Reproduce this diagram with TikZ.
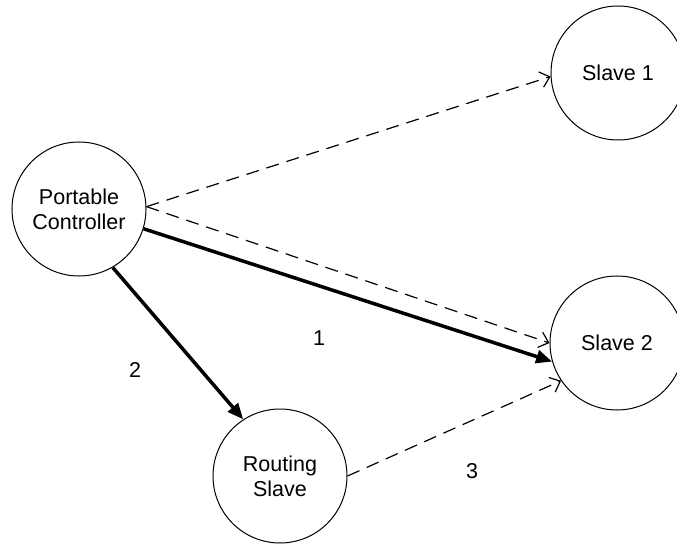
\documentclass[tikz,border=0pt]{standalone}
\usepackage{fontspec}
\setmainfont{Liberation Sans}
\usetikzlibrary{arrows.meta}
\begin{document}
\begin{tikzpicture}[x=1bp,y=-1bp,
  station/.style={draw, circle, line width=1bp, minimum size=134bp, inner sep=0pt,
    align=center, font=\fontsize{21.5bp}{25bp}\selectfont},
  lbl/.style={inner sep=0pt, font=\fontsize{21.5bp}{25bp}\selectfont},
  dlink/.style={line width=1.2bp, dash pattern=on 13bp off 8bp,
    -{Straight Barb[length=9bp,width=16bp,line width=1.2bp]}},
  tlink/.style={line width=3.5bp, -{Triangle[length=16bp,width=13bp]}}]
\useasboundingbox (0,0) rectangle (677,544);
\node[station] (pc) at (79,209) {Portable\\Controller};
\node[station] (s1) at (618,73) {Slave 1};
\node[station] (s2) at (617,343) {Slave 2};
\node[station] (rs) at (280,476) {Routing\\Slave};
\draw[dlink] (pc.2) -- (s1.183);
\draw[dlink] (pc.2) -- (s2.180);
\draw[tlink] (pc.-17) -- (s2.196);
\draw[tlink] (pc.-60) -- (rs.123);
\draw[dlink] (rs.0) -- (s2.214);
\node[lbl] (l1) at (319,338) {1};
\node[lbl] (l2) at (135,370) {2};
\node[lbl] (l3) at (472,471) {3};
\end{tikzpicture}
\end{document}
